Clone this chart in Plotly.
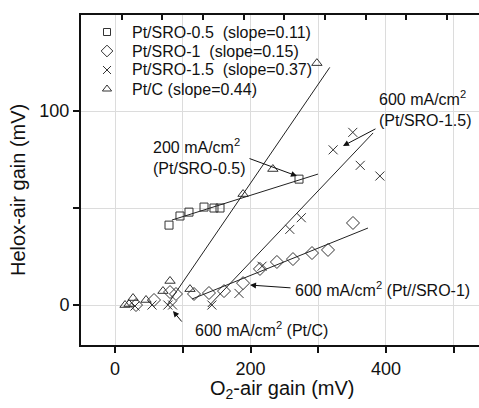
import plotly.graph_objects as go

# ---- data ----
sro05_x = [79.7, 95.9, 109.2, 131.4, 146.1, 155.0, 271.6]
sro05_y = [41.2, 45.9, 47.9, 50.5, 50.0, 50.0, 64.9]

sro1_x = [31, 57.6, 81.2, 90, 116.6, 138.7, 160.9, 189, 214, 239, 262.7, 290.8, 314.4, 351.3]
sro1_y = [0, 2.6, 6.7, 5.7, 5.7, 6.2, 7.2, 11.3, 18.6, 22.2, 23.7, 26.8, 28.4, 42.3]

sro15_x = [29.5, 54.6, 78, 85, 143, 183, 217, 258, 275, 322, 351, 362, 391]
sro15_y = [-0.5, 0, 0, 0, 0, 6, 20, 39, 45, 80, 89, 72, 66.5]

ptc_x = [14.8, 20.7, 26.6, 45.8, 70.8, 81.2, 110.7, 189, 233, 298]
ptc_y = [0, 0.5, 3.6, 2.6, 7.2, 12.4, 8.2, 57.2, 70.1, 124.7]

# fitted lines (end points)
fit05_x = [84, 299.6]
fit05_y = [43.8, 67.5]
fit1_x = [113.7, 373.4]
fit1_y = [3.1, 39.7]
fit15_x = [137, 381]
fit15_y = [-1, 88.7]
fitc_x = [77, 317]
fitc_y = [0, 122.5]

names = ["Pt/SRO-0.5 \u00a0(slope=0.11)", "Pt/SRO-1 \u00a0(slope=0.15)",
         "Pt/SRO-1.5 \u00a0(slope=0.37)", "Pt/C (slope=0.44)"]
x_tickvals = [0, 200, 400]
y_tickvals = [0, 100]
top_tickvals = [10, 70, 130, 190, 250, 310, 370, 430, 490]

FONT = "Arial, 'Liberation Sans', sans-serif"
MC = "#333333"

# plot-area geometry in pixels (for legend / titles placement)
PL, PR, PT, PB = 81, 479, 15, 345
PW, PH = PR - PL, PB - PT


def fx(px):
    return (px - PL) / PW


def fy(py):
    return (PB - py) / PH


fig = go.Figure()

series = [
    (sro05_x, sro05_y, "square-open", 8),
    (sro1_x, sro1_y, "diamond-open", 10),
    (sro15_x, sro15_y, "x-thin-open", 9),
    (ptc_x, ptc_y, "triangle-up-open", 9),
]
for (xs, ys, sym, sz), nm in zip(series, names):
    fig.add_trace(go.Scatter(
        x=xs, y=ys, mode="markers", name=nm, showlegend=False,
        marker=dict(symbol=sym, size=sz, color=MC, line=dict(color=MC, width=1)),
    ))

for lx, ly in [(fit05_x, fit05_y), (fit1_x, fit1_y), (fit15_x, fit15_y), (fitc_x, fitc_y)]:
    fig.add_trace(go.Scatter(x=lx, y=ly, mode="lines", showlegend=False,
                             line=dict(color="#222222", width=1)))

# invisible trace to activate the top axis
fig.add_trace(go.Scatter(x=[0], y=[0], xaxis="x2", mode="markers",
                         marker=dict(opacity=0), showlegend=False, hoverinfo="skip"))

annos = []

# hand-built legend (keys on an overlay paper-like axis, labels as annotations)
LEG_KEY_X, LEG_TEXT_X, LEG_TOP, LEG_STEP = 107, 130, 32, 19
for i, ((xs, ys, sym, sz), nm) in enumerate(zip(series, names)):
    ry = LEG_TOP + i * LEG_STEP
    fig.add_trace(go.Scatter(
        x=[fx(LEG_KEY_X)], y=[fy(ry)], xaxis="x3", yaxis="y3", mode="markers",
        showlegend=False, hoverinfo="skip",
        marker=dict(symbol=sym, size=sz - 1, color=MC, line=dict(color=MC, width=1)),
    ))
    annos.append(dict(x=fx(LEG_TEXT_X), y=fy(ry), xref="paper", yref="paper", text=nm,
                      showarrow=False, xanchor="left", yanchor="middle",
                      font=dict(family=FONT, size=16, color="#111111")))

texts = [
    (53.1, 76.5, "200 mA/cm<sup>2</sup><br>(Pt/SRO-0.5)"),
    (386.7, 101.5, "600 mA/cm<sup>2</sup><br>(Pt/SRO-1.5)"),
    (262.7, 8.2, "600 mA/cm<sup>2</sup> (Pt//SRO-1)"),
    (115, -12.4, "600 mA/cm<sup>2</sup> (Pt/C)"),
]
for tx, ty, t in texts:
    annos.append(dict(x=tx, y=ty, xref="x", yref="y", text=t, showarrow=False,
                      xanchor="left", yanchor="middle", align="left",
                      font=dict(family=FONT, size=16, color="#111111")))

arrows = [
    ((196.3, 75.8), (268.6, 66.5)),
    ((386.7, 91.2), (336.5, 82.0)),
    ((261.3, 8.8), (199.3, 10.3)),
    ((100.4, -9.3), (85.6, -3.1)),
]
for (tx, ty), (hx, hy) in arrows:
    annos.append(dict(x=hx, y=hy, ax=tx, ay=ty, xref="x", yref="y", axref="x", ayref="y",
                      text="", showarrow=True, arrowhead=2, arrowsize=1.2, arrowwidth=1,
                      arrowcolor="#111111", standoff=0, startstandoff=0))

# axis titles
annos.append(dict(x=fx(282), y=fy(390), xref="paper", yref="paper",
                  text="O<sub>2</sub>-air gain (mV)", showarrow=False,
                  xanchor="center", yanchor="middle",
                  font=dict(family=FONT, size=20, color="#111111")))
annos.append(dict(x=fx(18), y=fy(190), xref="paper", yref="paper",
                  text="Helox-air gain (mV)", showarrow=False, textangle=-90,
                  xanchor="center", yanchor="middle",
                  font=dict(family=FONT, size=20, color="#111111")))

fig.update_layout(
    width=479, height=408,
    margin=dict(l=PL, r=479 - PR, t=PT, b=408 - PB),
    paper_bgcolor="white", plot_bgcolor="white",
    font=dict(family=FONT, size=18, color="#111111"),
    showlegend=False,
    annotations=annos,
    xaxis=dict(range=[-50.2, 537.3], tickvals=x_tickvals, ticks="outside", ticklen=6,
               tickwidth=1.5, tickcolor="#111111", showline=True, linecolor="#111111",
               linewidth=2, showgrid=True, gridcolor="#dcdcdc", gridwidth=1, zeroline=False,
               tickfont=dict(family=FONT, size=18),
               minor=dict(dtick=100, tick0=0, ticks="outside", ticklen=6, tickwidth=1.5,
                          tickcolor="#111111", showgrid=True, gridcolor="#dcdcdc")),
    xaxis2=dict(overlaying="x", side="top", matches="x", tickvals=top_tickvals,
                ticks="inside", ticklen=5, tickwidth=1.5, tickcolor="#111111",
                showticklabels=False, showline=True, linecolor="#111111", linewidth=2,
                showgrid=False, zeroline=False),
    xaxis3=dict(overlaying="x", anchor="y3", range=[0, 1], visible=False, fixedrange=True),
    yaxis3=dict(overlaying="y", anchor="x3", range=[0, 1], visible=False, fixedrange=True),
    yaxis=dict(range=[-20.6, 149.5], tickvals=y_tickvals, ticks="outside", ticklen=6,
               tickwidth=1.5, tickcolor="#111111", showline=True, linecolor="#111111",
               linewidth=2, showgrid=True, gridcolor="#dcdcdc", gridwidth=1, zeroline=False,
               tickfont=dict(family=FONT, size=18),
               minor=dict(dtick=50, tick0=0, ticks="outside", ticklen=6, tickwidth=1.5,
                          tickcolor="#111111", showgrid=True, gridcolor="#dcdcdc")),
)

fig.write_html("out.html")
